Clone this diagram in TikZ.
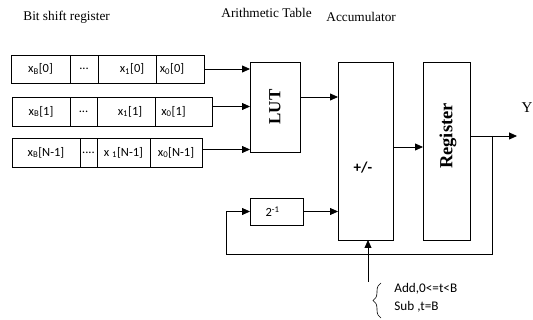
\documentclass[tikz,border=0pt]{standalone}
\usepackage{fontspec}
\setmainfont{Liberation Serif}
\newfontfamily\cellfont{Carlito}
\usetikzlibrary{arrows.meta,decorations.pathreplacing}

\begin{document}
\begin{tikzpicture}[x=1pt, y=-1pt, line width=0.8pt, >={Triangle[length=8pt,width=7pt]},
    every node/.style={font=\cellfont\fontsize{12.5}{14}\selectfont},
    cell/.style={draw, rectangle, anchor=north west, inner sep=0pt, outer sep=0pt},
    block/.style={draw, rectangle, anchor=north west, inner sep=0pt, outer sep=0pt},
    title/.style={anchor=west, inner sep=0pt, font=\rmfamily\fontsize{13.3}{15}\selectfont},
    bigtext/.style={inner sep=0pt, font=\rmfamily\bfseries\fontsize{17}{19}\selectfont}]
    \useasboundingbox (0,0) rectangle (533,320);

    % Titles
    \node[title] (t1) at (23,17) {Bit shift register};
    \node[title] (t2) at (221,13) {Arithmetic Table};
    \node[title] (t3) at (326,17) {Accumulator};

    % Bit shift register rows
    \node[cell, minimum width=59, minimum height=28] (a1) at (11,55) {x\textsubscript{B}[0]};
    \node[cell, minimum width=28, minimum height=28] (a2) at (70,55) {...};
    \node[cell, minimum width=58, minimum height=28] (a3) at (98,55) {\hspace*{10pt}x\textsubscript{1}[0]};
    \node[cell, minimum width=48, minimum height=28] (a4) at (156,55) {x\textsubscript{0}[0]\hspace*{16pt}};

    \node[cell, minimum width=58, minimum height=29] (b1) at (12,97) {x\textsubscript{B}[1]};
    \node[cell, minimum width=27, minimum height=29] (b2) at (70,97) {...};
    \node[cell, minimum width=58, minimum height=29] (b3) at (97,97) {\hspace*{8pt}x\textsubscript{1}[1]};
    \node[cell, minimum width=57, minimum height=29] (b4) at (155,97) {x\textsubscript{0}[1]\hspace*{20pt}};

    \node[cell, minimum width=68, minimum height=29] (c1) at (12,138) {x\textsubscript{B}[N-1]};
    \node[cell, minimum width=17, minimum height=29] (c2) at (80,138) {....};
    \node[cell, minimum width=53, minimum height=29] (c3) at (97,138) {x \textsubscript{1}[N-1]};
    \node[cell, minimum width=52, minimum height=29] (c4) at (150,138) {x\textsubscript{0}[N-1]};

    % Blocks
    \node[block, minimum width=50, minimum height=90] (lut) at (250,62) {};
    \node[bigtext] (luttext) at (lut.center) {\rotatebox{90}{LUT}};
    \node[block, minimum width=55, minimum height=178] (acc) at (338,62) {};
    \node[font=\cellfont\bfseries\fontsize{15}{17}\selectfont] (pm) at (363,168) {+/-};
    \node[block, minimum width=47, minimum height=178] (reg) at (423,62) {};
    \node[bigtext, font=\rmfamily\bfseries\fontsize{18.5}{20}\selectfont] (regtext) at (448,136) {\rotatebox{90}{Register}};
    \node[block, minimum width=53, minimum height=27] (half) at (250,198) {\hspace*{-8pt}2\textsuperscript{-1}};

    % Inputs to LUT
    \draw[->] (a4.east) -- (a4.east -| lut.west);
    \draw[->] ([yshift=5pt]b4.east) -- ([yshift=5pt]b4.east -| lut.west);
    \draw[->] ([yshift=3pt]c4.east) -- ([yshift=3pt]c4.east -| lut.west);

    % Datapath
    \draw[->] ([yshift=10pt]lut.east) -- ([yshift=10pt]lut.east -| acc.west);
    \draw[->] ([yshift=4pt]acc.east) -- ([yshift=4pt]acc.east -| reg.west);
    \draw[->] (half.east) -- (half.east -| acc.west);

    % Output and feedback
    \coordinate (yout) at (517,136);
    \coordinate (tap) at (492,136);
    \coordinate (fb) at (226,254);
    \draw[->] (yout -| reg.east) -- (yout);
    \node[font=\rmfamily\fontsize{15}{17}\selectfont] (ylab) at (527,108) {Y};
    \draw[->] (tap) |- (fb) |- (half.west);

    % Add/sub control
    \coordinate (ctl) at (368,282);
    \draw[->] (ctl) -- (ctl |- acc.south);
    \coordinate (bb) at (381,318);
    \coordinate (bt) at (381,283);
    \draw[decorate, decoration={brace, amplitude=8pt}, line width=0.6pt] (bb) -- (bt);
    \node[anchor=west, inner sep=0pt, font=\cellfont\fontsize{13.2}{15}\selectfont] (add) at (394,289) {Add,0<=t<B};
    \node[anchor=west, inner sep=0pt, font=\cellfont\fontsize{13.2}{15}\selectfont] (sub) at (394,307) {Sub ,t=B};
\end{tikzpicture}
\end{document}
